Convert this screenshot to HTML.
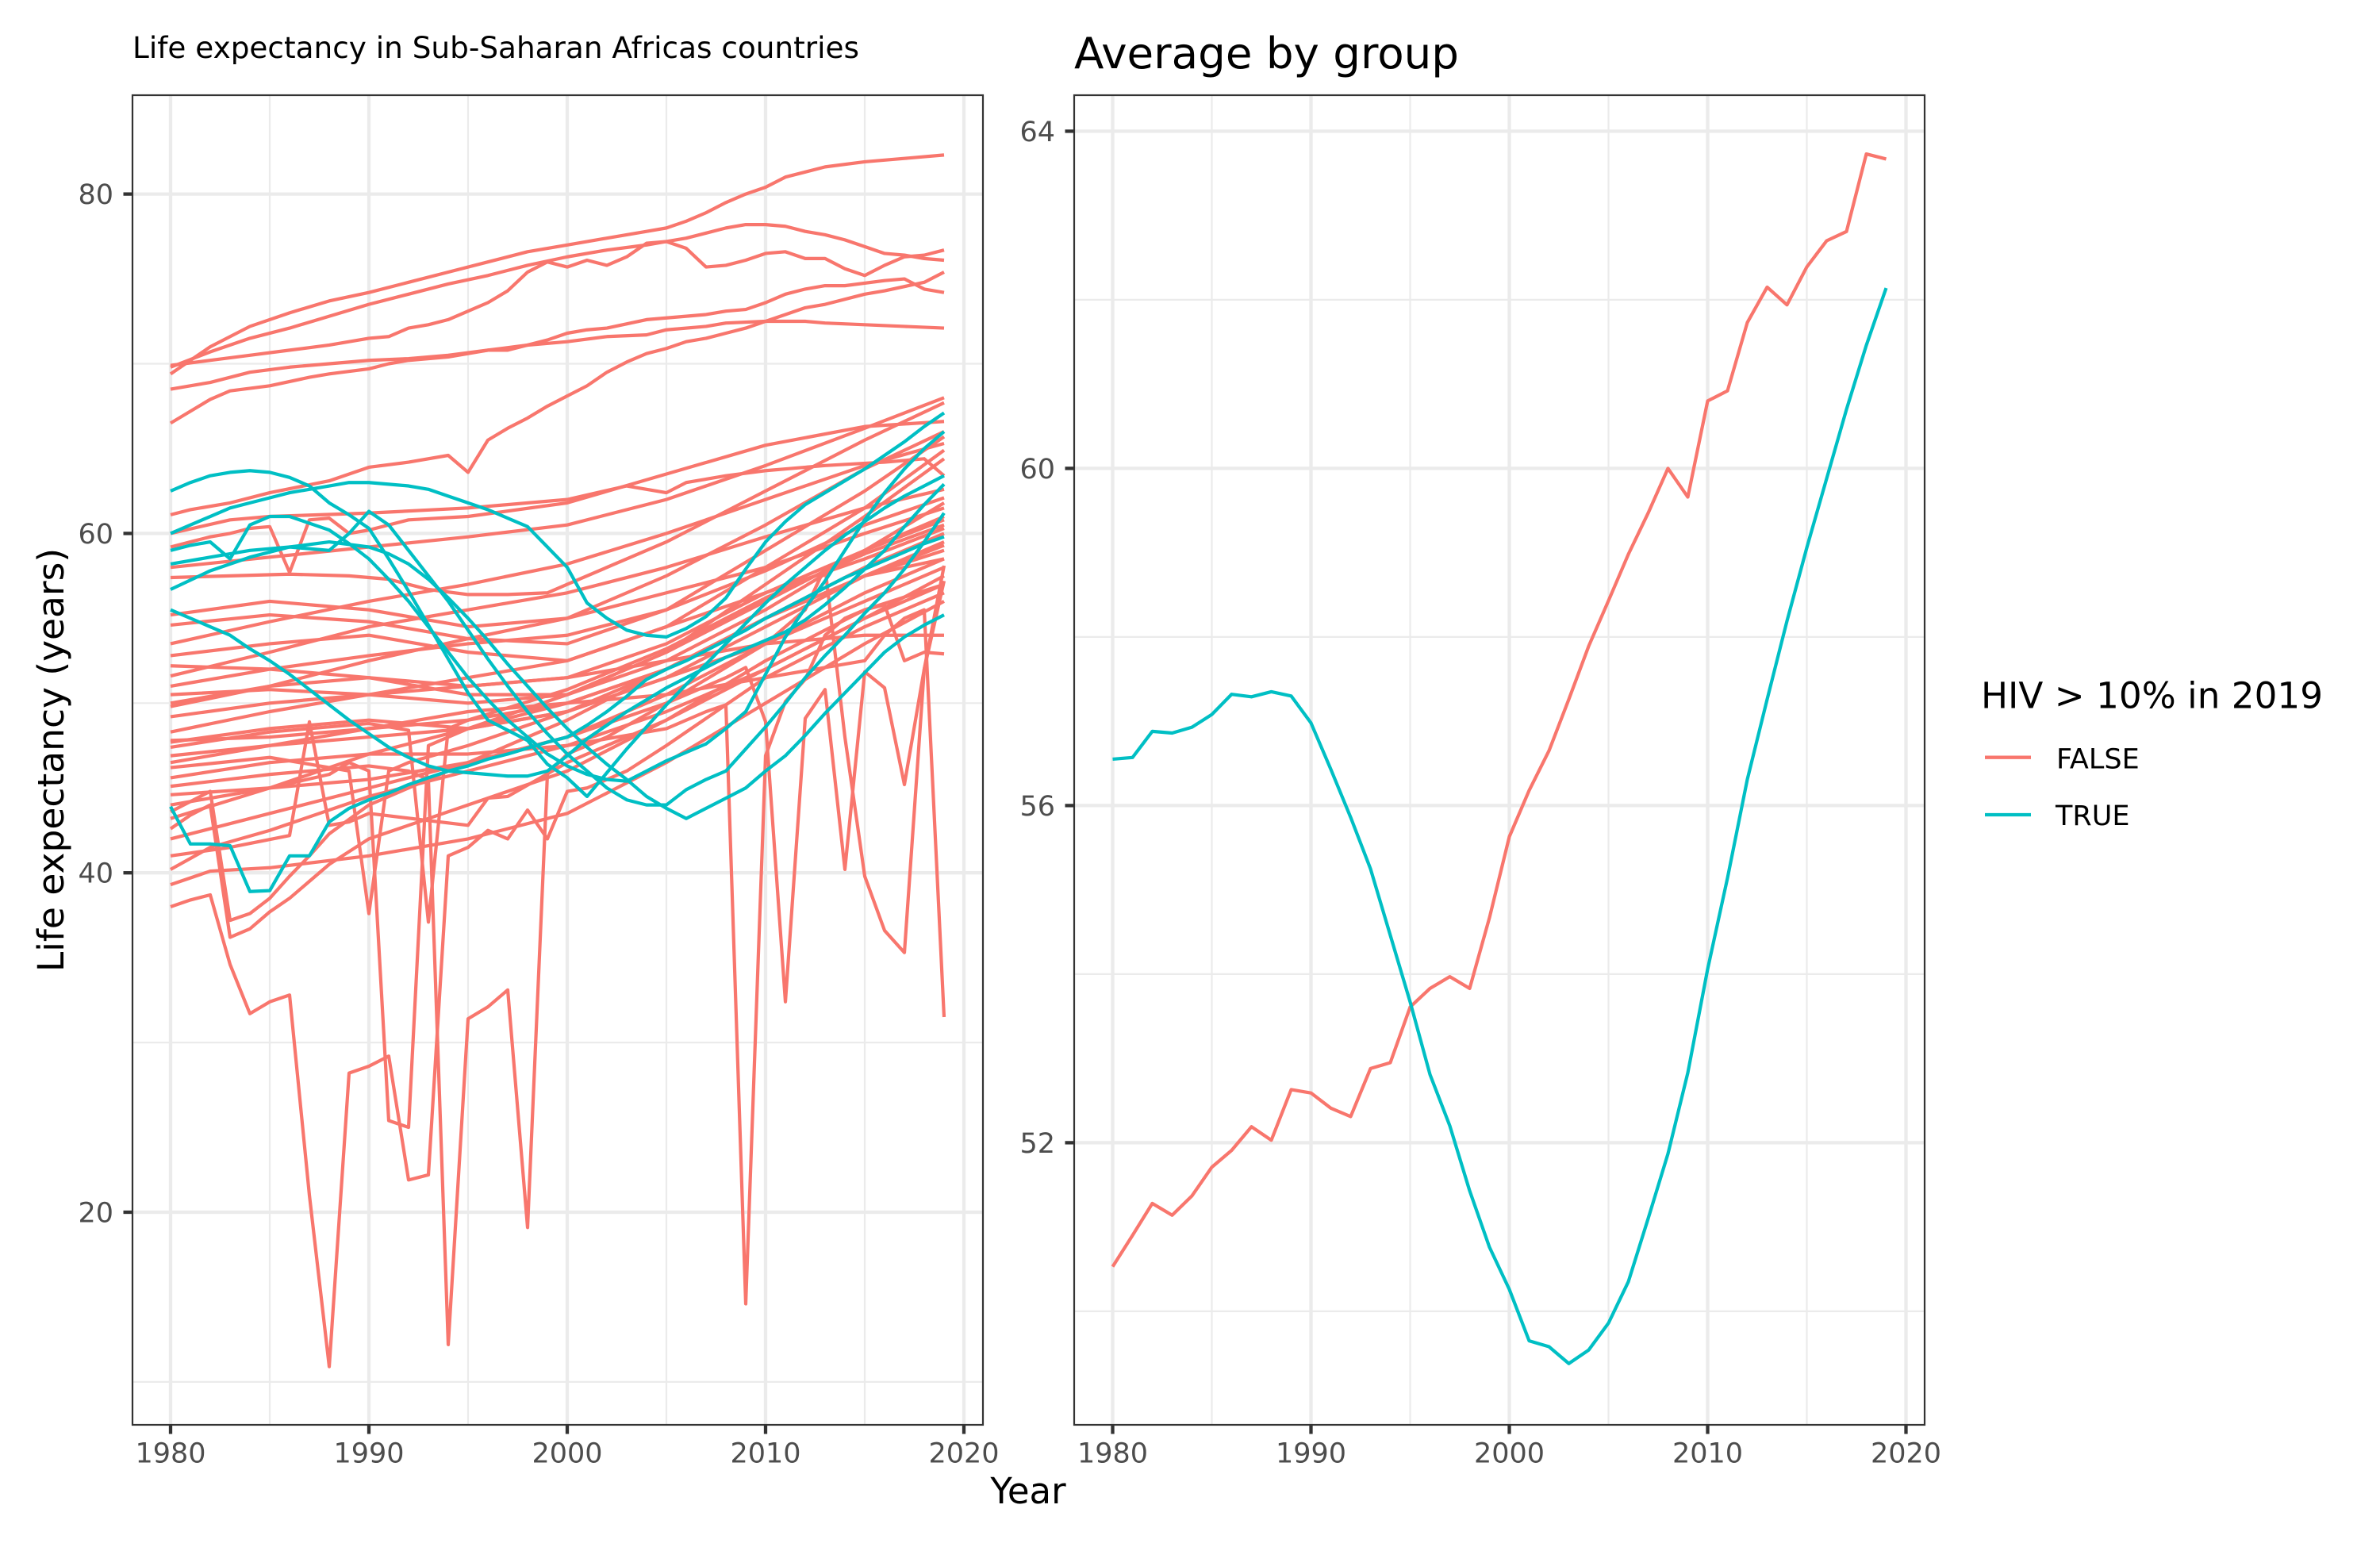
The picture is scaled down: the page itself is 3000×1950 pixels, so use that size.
<!DOCTYPE html>
<html><head><meta charset="utf-8"><style>
html,body{margin:0;padding:0;background:#fff;}
svg{display:block;}
text{font-family:"DejaVu Sans","Liberation Sans",sans-serif;}
</style></head><body>
<svg width="3000" height="1950" viewBox="0 0 3000 1950" xmlns="http://www.w3.org/2000/svg">
<rect width="3000" height="1950" fill="#fff"/>
<defs>
<clipPath id="c1"><rect x="167" y="120" width="1072" height="1676"/></clipPath>
<clipPath id="c2"><rect x="1354" y="120" width="1072" height="1676"/></clipPath>
</defs>

<!-- Titles -->
<text x="167" y="73" font-size="37" fill="#000" textLength="916" lengthAdjust="spacingAndGlyphs">Life expectancy in Sub-Saharan Africas countries</text>
<text x="1354" y="86" font-size="54.5" fill="#000" textLength="485" lengthAdjust="spacingAndGlyphs">Average by group</text>

<!-- LEFT PANEL grid -->
<g fill="none" stroke="#EBEBEB">
<g stroke-width="2.2">
<line x1="167" x2="1239" y1="1741.9" y2="1741.9"/><line x1="167" x2="1239" y1="1314.1" y2="1314.1"/>
<line x1="167" x2="1239" y1="886.3" y2="886.3"/><line x1="167" x2="1239" y1="458.5" y2="458.5"/>
<line x1="340" x2="340" y1="120" y2="1796"/><line x1="590" x2="590" y1="120" y2="1796"/>
<line x1="840" x2="840" y1="120" y2="1796"/><line x1="1090" x2="1090" y1="120" y2="1796"/>
</g>
<g stroke-width="4.3">
<line x1="167" x2="1239" y1="1528" y2="1528"/><line x1="167" x2="1239" y1="1100.2" y2="1100.2"/>
<line x1="167" x2="1239" y1="672.4" y2="672.4"/><line x1="167" x2="1239" y1="244.6" y2="244.6"/>
<line x1="215" x2="215" y1="120" y2="1796"/><line x1="465" x2="465" y1="120" y2="1796"/>
<line x1="715" x2="715" y1="120" y2="1796"/><line x1="965" x2="965" y1="120" y2="1796"/>
<line x1="1215" x2="1215" y1="120" y2="1796"/>
</g>
</g>

<!-- LEFT PANEL data -->
<g clip-path="url(#c1)">
<g transform="matrix(25 0 0 -21.39 -49285 1955.8)" fill="none" stroke-linejoin="round">
<g stroke="#F8766D">
<polyline vector-effect="non-scaling-stroke" stroke-width="4.2" points="1980,69.4 1982,71 1984,72.2 1986,73 1988,73.7 1990,74.2 1992,74.8 1994,75.4 1996,76 1998,76.6 2000,77 2002,77.4 2004,77.8 2005,78 2006,78.4 2007,78.9 2008,79.5 2009,80 2010,80.4 2011,81 2012,81.3 2013,81.6 2015,81.9 2017,82.1 2019,82.3"/>
<polyline vector-effect="non-scaling-stroke" stroke-width="4.2" points="1980,69.8 1982,70.7 1984,71.5 1986,72.1 1988,72.8 1990,73.5 1992,74.1 1994,74.7 1996,75.2 1998,75.8 2000,76.3 2002,76.7 2004,77 2005,77.2 2006,77.4 2007,77.7 2008,78 2009,78.2 2010,78.2 2011,78.1 2012,77.8 2013,77.6 2014,77.3 2015,76.9 2016,76.5 2017,76.4 2018,76.2 2019,76.1"/>
<polyline vector-effect="non-scaling-stroke" stroke-width="4.2" points="1980,69.9 1982,70.2 1984,70.5 1986,70.8 1988,71.1 1989,71.3 1990,71.5 1991,71.6 1992,72.1 1993,72.3 1994,72.6 1995,73.1 1996,73.6 1997,74.3 1998,75.4 1999,76 2000,75.7 2001,76.1 2002,75.8 2003,76.3 2004,77.1 2005,77.2 2006,76.8 2007,75.7 2008,75.8 2009,76.1 2010,76.5 2011,76.6 2012,76.2 2013,76.2 2014,75.6 2015,75.2 2016,75.8 2017,76.3 2018,76.4 2019,76.7"/>
<polyline vector-effect="non-scaling-stroke" stroke-width="4.2" points="1980,68.5 1982,68.9 1984,69.5 1986,69.8 1988,70 1990,70.2 1992,70.3 1994,70.5 1996,70.8 1998,71.1 2000,71.3 2002,71.6 2004,71.7 2005,72 2007,72.2 2008,72.4 2010,72.5 2012,72.5 2013,72.4 2015,72.3 2017,72.2 2019,72.1"/>
<polyline vector-effect="non-scaling-stroke" stroke-width="4.2" points="1980,66.5 1982,67.9 1983,68.4 1985,68.7 1987,69.2 1988,69.4 1990,69.7 1991,70 1992,70.2 1994,70.4 1995,70.6 1996,70.8 1997,70.8 1998,71.1 1999,71.4 2000,71.8 2001,72 2002,72.1 2004,72.6 2005,72.7 2006,72.8 2007,72.9 2008,73.1 2009,73.2 2010,73.6 2011,74.1 2012,74.4 2013,74.6 2014,74.6 2016,74.9 2017,75 2018,74.4 2019,74.2"/>
<polyline vector-effect="non-scaling-stroke" stroke-width="4.2" points="1980,61.1 1981,61.4 1983,61.8 1985,62.4 1988,63.1 1990,63.9 1992,64.2 1994,64.6 1995,63.6 1996,65.5 1997,66.2 1998,66.8 1999,67.5 2000,68.1 2001,68.7 2002,69.5 2003,70.1 2004,70.6 2005,70.9 2006,71.3 2007,71.5 2008,71.8 2009,72.1 2010,72.5 2011,72.9 2012,73.3 2013,73.5 2015,74.1 2016,74.3 2018,74.8 2019,75.4"/>
<polyline vector-effect="non-scaling-stroke" stroke-width="4.2" points="1980,60 1983,60.8 1985,61 1990,61.2 1995,61.5 2000,62 2003,62.8 2004,62.6 2005,62.4 2006,63 2008,63.4 2010,63.7 2013,64 2016,64.2 2018,64.4 2019,63.4"/>
<polyline vector-effect="non-scaling-stroke" stroke-width="4.2" points="1980,59.2 1981,59.5 1982,59.8 1983,60 1984,60.3 1985,60.4 1986,57.7 1987,60.8 1988,60.9 1989,60 1990,60.2 1992,60.8 1995,61 2000,61.8 2005,63.5 2010,65.2 2015,66.3 2019,66.6"/>
<polyline vector-effect="non-scaling-stroke" stroke-width="4.2" points="1980,58 1985,58.6 1990,59.2 1995,59.8 2000,60.5 2005,62 2010,64 2015,66.2 2019,68"/>
<polyline vector-effect="non-scaling-stroke" stroke-width="4.2" points="1980,57.4 1983,57.5 1986,57.6 1989,57.5 1991,57.3 1993,56.7 1995,56.4 1997,56.4 1999,56.5 2000,57 2005,59.5 2010,62.5 2015,65.5 2019,67.7"/>
<polyline vector-effect="non-scaling-stroke" stroke-width="4.2" points="1980,55.2 1985,56 1990,55.5 1995,54.5 2000,55 2005,57.5 2010,60.5 2015,63.8 2019,66"/>
<polyline vector-effect="non-scaling-stroke" stroke-width="4.2" points="1980,54.6 1985,55.2 1990,54.8 1995,53.8 2000,53.5 2005,55.5 2010,59 2015,62.5 2019,65.7"/>
<polyline vector-effect="non-scaling-stroke" stroke-width="4.2" points="1980,53.5 1985,54.8 1990,56 1995,57 2000,58.2 2005,60 2010,62 2015,64 2019,65.3"/>
<polyline vector-effect="non-scaling-stroke" stroke-width="4.2" points="1980,52.8 1985,53.5 1990,54 1995,53 2000,52.5 2005,54.5 2010,58 2015,61.5 2019,64.9"/>
<polyline vector-effect="non-scaling-stroke" stroke-width="4.2" points="1980,52.2 1985,52 1990,51.5 1995,50.5 2000,50.5 2005,53 2010,57 2015,61 2019,64.4"/>
<polyline vector-effect="non-scaling-stroke" stroke-width="4.2" points="1980,51.6 1985,53 1990,54.5 1995,55.5 2000,56.5 2005,58 2010,59.8 2015,61.5 2019,62.6"/>
<polyline vector-effect="non-scaling-stroke" stroke-width="4.2" points="1980,51 1985,52 1990,52.8 1995,53.5 2000,54 2005,55.5 2010,57.8 2015,60.5 2019,62.1"/>
<polyline vector-effect="non-scaling-stroke" stroke-width="4.2" points="1980,50.5 1985,50.8 1990,50.5 1995,50 2000,50.5 2005,52.5 2010,55.5 2015,59 2019,61.8"/>
<polyline vector-effect="non-scaling-stroke" stroke-width="4.2" points="1980,49.8 1985,51 1990,52.5 1995,53.8 2000,55 2005,56.5 2010,58 2015,60 2019,61.5"/>
<polyline vector-effect="non-scaling-stroke" stroke-width="4.2" points="1980,49.2 1985,50 1990,50.5 1995,51 2000,51.5 2005,53.5 2010,56.5 2015,59 2019,60.8"/>
<polyline vector-effect="non-scaling-stroke" stroke-width="4.2" points="1980,48.3 1985,49.5 1990,50.5 1995,51.5 2000,52.5 2005,54.5 2010,56.5 2015,58.5 2019,60.3"/>
<polyline vector-effect="non-scaling-stroke" stroke-width="4.2" points="1980,47.8 1985,48 1990,48.5 1995,49 2000,50 2005,52 2010,55 2015,58 2019,60"/>
<polyline vector-effect="non-scaling-stroke" stroke-width="4.2" points="1980,46.9 1985,47.5 1990,48 1995,48.5 2000,49.5 2005,51.5 2010,54.5 2015,57.5 2019,59"/>
<polyline vector-effect="non-scaling-stroke" stroke-width="4.2" points="1980,43.2 1985,45 1990,47 1995,48.5 2000,50 2005,52 2010,55 2015,57.5 2019,59.5"/>
<polyline vector-effect="non-scaling-stroke" stroke-width="4.2" points="1980,42 1985,43.5 1990,45 1995,46.5 2000,48 2005,50.5 2010,53.5 2015,56 2019,58"/>
<polyline vector-effect="non-scaling-stroke" stroke-width="4.2" points="1980,40.2 1982,41.5 1985,42.5 1990,44.5 1995,46 2000,47.5 2005,49.5 2010,52 2015,55 2019,57.5"/>
<polyline vector-effect="non-scaling-stroke" stroke-width="4.2" points="1980,39.3 1982,40.1 1985,40.3 1990,41 1995,42 2000,43.5 2005,46.5 2010,50 2015,53.5 2019,56"/>
<polyline vector-effect="non-scaling-stroke" stroke-width="4.2" points="1980,43.6 1981,44.2 1982,44.8 1983,37.2 1984,37.6 1985,38.5 1986,39.8 1987,41 1988,42.3 1990,44 1995,46.5 2000,49 2005,52 2010,55 2015,57.5 2019,58.5"/>
<polyline vector-effect="non-scaling-stroke" stroke-width="4.2" points="1980,42.6 1981,43.4 1982,44 1983,36.2 1984,36.7 1985,37.7 1986,38.5 1987,39.5 1988,40.5 1990,42 1995,44 2000,46 2005,49 2010,52.5 2015,55.5 2019,57"/>
<polyline vector-effect="non-scaling-stroke" stroke-width="4.2" points="1980,44 1985,45 1988,45.8 1989,46.5 1990,46 1991,25.4 1992,25 1993,47.5 1995,48.5 2000,50.5 2005,53 2010,56 2015,59 2019,61"/>
<polyline vector-effect="non-scaling-stroke" stroke-width="4.2" points="1980,45.1 1985,45.8 1990,46.3 1992,46 1993,45.5 1994,12.2 1995,31.4 1996,32.1 1997,33.1 1998,19.1 1999,45.8 2000,47 2002,48 2005,50 2010,53.5 2015,56.5 2019,58.5"/>
<polyline vector-effect="non-scaling-stroke" stroke-width="4.2" points="1980,38 1981,38.4 1982,38.7 1983,34.6 1984,31.7 1985,32.4 1986,32.8 1987,21 1988,10.9 1989,28.2 1990,28.6 1991,29.2 1992,21.9 1993,22.2 1994,41 1995,41.5 1996,42.5 1997,42 1998,43.7 1999,42 2000,44.8 2001,45 2003,46 2005,47.5 2010,51.5 2015,54.5 2019,56.5"/>
<polyline vector-effect="non-scaling-stroke" stroke-width="4.2" points="1980,46.2 1985,46.8 1989,46 1990,37.6 1991,46 1992,46.5 1995,47.5 2000,49.5 2005,52 2010,55 2015,57.5 2019,59.3"/>
<polyline vector-effect="non-scaling-stroke" stroke-width="4.2" points="1980,47.4 1985,48.3 1990,48.8 1992,48.4 1993,37.1 1994,48.5 1995,49 2000,50.8 2005,53.2 2010,56.2 2015,58.8 2019,60.5"/>
<polyline vector-effect="non-scaling-stroke" stroke-width="4.2" points="1980,41 1983,41.5 1986,42.2 1987,48.9 1988,42.8 1989,43 1990,43.5 1995,42.8 1996,44.4 1997,44.5 2000,46.5 2005,49 2010,52 2015,55 2019,57"/>
<polyline vector-effect="non-scaling-stroke" stroke-width="4.2" points="1980,45.6 1985,46.5 1990,47 1995,47 2000,47.5 2005,48.5 2007,49.5 2008,49.9 2009,14.6 2010,46.9 2011,50.1 2012,51.4 2013,54 2014,55 2015,55.5 2016,55.8 2017,52.5 2018,53 2019,52.9"/>
<polyline vector-effect="non-scaling-stroke" stroke-width="4.2" points="1980,44.6 1985,45 1990,45.5 1995,46.5 2000,48 2005,50 2008,51.5 2009,52.1 2010,48.9 2011,32.4 2012,49.1 2013,50.8 2014,40.2 2015,51.85 2016,50.9 2017,45.2 2018,52 2019,57.2"/>
<polyline vector-effect="non-scaling-stroke" stroke-width="4.2" points="1980,47.7 1985,48.5 1990,49 1995,48.5 2000,49.5 2005,51.5 2010,53.5 2011,54.5 2012,55.5 2013,58 2014,48 2015,39.8 2016,36.6 2017,35.3 2018,52 2019,58.1"/>
<polyline vector-effect="non-scaling-stroke" stroke-width="4.2" points="1980,46.5 1985,47.5 1990,48.5 1995,49.5 2000,50 2005,50.5 2010,51.5 2015,52.5 2016,54 2017,55 2018,55.5 2019,31.5"/>
<polyline vector-effect="non-scaling-stroke" stroke-width="4.2" points="1980,50 1985,51 1990,51.5 1995,51 2000,51.5 2005,52.5 2010,53.5 2015,54 2019,54"/>
</g>
<g stroke="#00BFC4">
<polyline vector-effect="non-scaling-stroke" stroke-width="4.2" points="1980,62.5 1981,63 1982,63.4 1983,63.6 1984,63.7 1985,63.6 1986,63.3 1987,62.8 1988,61.8 1989,61.1 1990,60.3 1991,58.5 1992,56.6 1993,54.6 1994,52.6 1995,50.6 1996,49 1997,48.4 1998,47.8 1999,46.4 2000,45.6 2001,44.5 2002,45.9 2003,47.3 2004,48.6 2005,49.9 2006,51.1 2007,52.3 2008,53.5 2009,54.7 2010,55.9 2011,57 2012,58 2013,59 2014,59.9 2015,60.7 2016,61.5 2017,62.2 2018,62.8 2019,63.4"/>
<polyline vector-effect="non-scaling-stroke" stroke-width="4.2" points="1980,60 1981,60.5 1982,61 1983,61.5 1984,61.8 1985,62.1 1986,62.4 1987,62.6 1988,62.8 1989,63 1990,63 1991,62.9 1992,62.8 1993,62.6 1994,62.2 1995,61.8 1996,61.4 1997,60.9 1998,60.4 1999,59.2 2000,58 2001,55.9 2002,55 2003,54.3 2004,54 2005,53.9 2006,54.4 2007,55.1 2008,56.2 2009,57.9 2010,59.5 2011,60.7 2012,61.7 2013,62.4 2014,63.1 2015,63.8 2016,64.6 2017,65.4 2018,66.3 2019,67.1"/>
<polyline vector-effect="non-scaling-stroke" stroke-width="4.2" points="1980,59 1981,59.3 1982,59.5 1983,58.5 1984,60.5 1985,61 1986,61 1987,60.6 1988,60.2 1989,59.4 1990,58.5 1991,57.3 1992,56 1993,54.5 1994,53 1995,51.5 1996,50.2 1997,49 1998,48 1999,47 2000,46.3 2001,45.8 2002,45.5 2003,45.4 2004,46 2005,46.6 2006,47.1 2007,47.6 2008,48.5 2009,49.5 2010,51.7 2011,53.9 2012,55.6 2013,57.2 2014,59 2015,60.8 2016,62.4 2017,63.8 2018,65 2019,66"/>
<polyline vector-effect="non-scaling-stroke" stroke-width="4.2" points="1980,58.2 1982,58.6 1984,59 1986,59.2 1988,59 1989,60 1990,61.3 1991,60.5 1992,59 1993,57.5 1994,56 1995,54.3 1996,52.6 1997,51 1998,49.5 1999,48.2 2000,47 2001,46 2002,45 2003,44.3 2004,44 2005,44 2006,44.9 2007,45.5 2008,46 2009,47.3 2010,48.6 2011,50 2012,51.5 2013,52.8 2014,54 2015,55.3 2016,56.5 2017,57.9 2018,59.5 2019,61.2"/>
<polyline vector-effect="non-scaling-stroke" stroke-width="4.2" points="1980,56.7 1982,57.8 1984,58.6 1986,59.2 1988,59.5 1990,59.2 1991,58.8 1992,58.2 1993,57.3 1994,56.2 1995,55 1996,53.7 1997,52.3 1998,51 1999,49.7 2000,48.5 2001,47.4 2002,46.4 2003,45.5 2004,44.5 2005,43.8 2006,43.2 2007,43.8 2008,44.4 2009,45 2010,46 2011,46.9 2012,48.1 2013,49.4 2014,50.6 2015,51.8 2016,53 2017,53.9 2018,54.6 2019,55.2"/>
<polyline vector-effect="non-scaling-stroke" stroke-width="4.2" points="1980,55.5 1981,55 1982,54.5 1983,54 1984,53.2 1985,52.5 1986,51.7 1987,50.8 1988,49.9 1989,49 1990,48.2 1991,47.4 1992,46.8 1993,46.3 1994,46 1995,45.9 1996,45.8 1997,45.7 1998,45.7 1999,46 2000,46.9 2001,47.9 2002,48.7 2003,49.5 2004,50.2 2005,50.9 2006,51.5 2007,52.1 2008,52.7 2009,53.2 2010,53.7 2011,54.2 2012,54.9 2013,55.8 2014,56.8 2015,57.9 2016,59 2017,60.4 2018,61.7 2019,62.9"/>
<polyline vector-effect="non-scaling-stroke" stroke-width="4.2" points="1980,43.9 1981,41.7 1982,41.7 1983,41.6 1984,38.9 1985,38.95 1986,41 1987,41 1988,43 1989,43.8 1990,44.3 1991,44.7 1992,45.2 1993,45.6 1994,46 1995,46.3 1996,46.7 1997,47 1998,47.35 1999,47.7 2000,48 2001,48.7 2002,49.5 2003,50.4 2004,51.4 2005,52 2006,52.5 2007,53.1 2008,53.7 2009,54.3 2010,55 2011,55.6 2012,56.2 2013,56.8 2014,57.4 2015,57.9 2016,58.4 2017,58.9 2018,59.4 2019,59.8"/>
</g>
</g>
</g>
<rect x="167" y="120" width="1072" height="1676" fill="none" stroke="#333333" stroke-width="2.2"/>

<!-- LEFT axes ticks -->
<g stroke="#333333" stroke-width="4.3">
<line x1="155.5" x2="167" y1="1528" y2="1528"/><line x1="155.5" x2="167" y1="1100.2" y2="1100.2"/>
<line x1="155.5" x2="167" y1="672.4" y2="672.4"/><line x1="155.5" x2="167" y1="244.6" y2="244.6"/>
<line x1="215" x2="215" y1="1796" y2="1807.5"/><line x1="465" x2="465" y1="1796" y2="1807.5"/>
<line x1="715" x2="715" y1="1796" y2="1807.5"/><line x1="965" x2="965" y1="1796" y2="1807.5"/>
<line x1="1215" x2="1215" y1="1796" y2="1807.5"/>
</g>
<g font-size="35" fill="#4D4D4D">
<text x="143" y="1540.5" text-anchor="end">20</text>
<text x="143" y="1112.7" text-anchor="end">40</text>
<text x="143" y="684.9" text-anchor="end">60</text>
<text x="143" y="257.1" text-anchor="end">80</text>
<g text-anchor="middle">
<text x="215" y="1843.3">1980</text><text x="465" y="1843.3">1990</text>
<text x="715" y="1843.3">2000</text><text x="965" y="1843.3">2010</text>
<text x="1215" y="1843.3">2020</text>
</g>
</g>

<!-- RIGHT PANEL grid -->
<g fill="none" stroke="#EBEBEB">
<g stroke-width="2.2">
<line x1="1354" x2="2426" y1="1652.9" y2="1652.9"/><line x1="1354" x2="2426" y1="1227.9" y2="1227.9"/>
<line x1="1354" x2="2426" y1="802.9" y2="802.9"/><line x1="1354" x2="2426" y1="377.9" y2="377.9"/>
<line x1="1527.5" x2="1527.5" y1="120" y2="1796"/><line x1="1777.5" x2="1777.5" y1="120" y2="1796"/>
<line x1="2027.5" x2="2027.5" y1="120" y2="1796"/><line x1="2277.5" x2="2277.5" y1="120" y2="1796"/>
</g>
<g stroke-width="4.3">
<line x1="1354" x2="2426" y1="1440.4" y2="1440.4"/><line x1="1354" x2="2426" y1="1015.4" y2="1015.4"/>
<line x1="1354" x2="2426" y1="590.4" y2="590.4"/><line x1="1354" x2="2426" y1="165.4" y2="165.4"/>
<line x1="1402.5" x2="1402.5" y1="120" y2="1796"/><line x1="1652.5" x2="1652.5" y1="120" y2="1796"/>
<line x1="1902.5" x2="1902.5" y1="120" y2="1796"/><line x1="2152.5" x2="2152.5" y1="120" y2="1796"/>
<line x1="2402.5" x2="2402.5" y1="120" y2="1796"/>
</g>
</g>

<!-- RIGHT PANEL data -->
<g clip-path="url(#c2)">
<g transform="matrix(25 0 0 -106.25 -48097.5 6965.4)" fill="none" stroke-linejoin="round">
<polyline vector-effect="non-scaling-stroke" stroke="#F8766D" stroke-width="4.2" points="1980,50.53 1981,50.9 1982,51.28 1983,51.14 1984,51.37 1985,51.71 1986,51.91 1987,52.19 1988,52.03 1989,52.63 1990,52.59 1991,52.41 1992,52.31 1993,52.88 1994,52.95 1995,53.61 1996,53.83 1997,53.97 1998,53.83 1999,54.67 2000,55.63 2001,56.18 2002,56.65 2003,57.26 2004,57.89 2005,58.43 2006,58.98 2007,59.47 2008,60 2009,59.66 2010,60.8 2011,60.92 2012,61.73 2013,62.15 2014,61.94 2015,62.39 2016,62.7 2017,62.81 2018,63.73 2019,63.67"/>
<polyline vector-effect="non-scaling-stroke" stroke="#00BFC4" stroke-width="4.2" points="1980,56.55 1981,56.57 1982,56.88 1983,56.86 1984,56.93 1985,57.08 1986,57.32 1987,57.29 1988,57.35 1989,57.3 1990,56.98 1991,56.43 1992,55.86 1993,55.25 1994,54.46 1995,53.67 1996,52.81 1997,52.2 1998,51.43 1999,50.76 2000,50.26 2001,49.65 2002,49.58 2003,49.38 2004,49.54 2005,49.86 2006,50.35 2007,51.1 2008,51.87 2009,52.83 2010,54.06 2011,55.14 2012,56.31 2013,57.26 2014,58.19 2015,59.06 2016,59.88 2017,60.7 2018,61.46 2019,62.14"/>
</g>
</g>
<rect x="1354" y="120" width="1072" height="1676" fill="none" stroke="#333333" stroke-width="2.2"/>

<!-- RIGHT axes ticks -->
<g stroke="#333333" stroke-width="4.3">
<line x1="1342.5" x2="1354" y1="1440.4" y2="1440.4"/><line x1="1342.5" x2="1354" y1="1015.4" y2="1015.4"/>
<line x1="1342.5" x2="1354" y1="590.4" y2="590.4"/><line x1="1342.5" x2="1354" y1="165.4" y2="165.4"/>
<line x1="1402.5" x2="1402.5" y1="1796" y2="1807.5"/><line x1="1652.5" x2="1652.5" y1="1796" y2="1807.5"/>
<line x1="1902.5" x2="1902.5" y1="1796" y2="1807.5"/><line x1="2152.5" x2="2152.5" y1="1796" y2="1807.5"/>
<line x1="2402.5" x2="2402.5" y1="1796" y2="1807.5"/>
</g>
<g font-size="35" fill="#4D4D4D">
<text x="1330" y="1453.2" text-anchor="end">52</text>
<text x="1330" y="1028.2" text-anchor="end">56</text>
<text x="1330" y="603.2" text-anchor="end">60</text>
<text x="1330" y="178.2" text-anchor="end">64</text>
<g text-anchor="middle">
<text x="1402.5" y="1843.3">1980</text><text x="1652.5" y="1843.3">1990</text>
<text x="1902.5" y="1843.3">2000</text><text x="2152.5" y="1843.3">2010</text>
<text x="2402.5" y="1843.3">2020</text>
</g>
</g>

<!-- Axis titles -->
<text x="1296" y="1895" font-size="45" fill="#000" text-anchor="middle">Year</text>
<text transform="translate(80,958) rotate(-90)" font-size="45.5" fill="#000" text-anchor="middle">Life expectancy (years)</text>

<!-- Legend -->
<text x="2497" y="892.6" font-size="45.5" fill="#000" textLength="431" lengthAdjust="spacingAndGlyphs">HIV &gt; 10% in 2019</text>
<line x1="2502" x2="2560" y1="954.7" y2="954.7" stroke="#F8766D" stroke-width="4.3"/>
<line x1="2502" x2="2560" y1="1027" y2="1027" stroke="#00BFC4" stroke-width="4.3"/>
<text x="2592" y="968.4" font-size="35" fill="#000">FALSE</text>
<text x="2591" y="1040" font-size="35" fill="#000">TRUE</text>
</svg>
</body></html>
